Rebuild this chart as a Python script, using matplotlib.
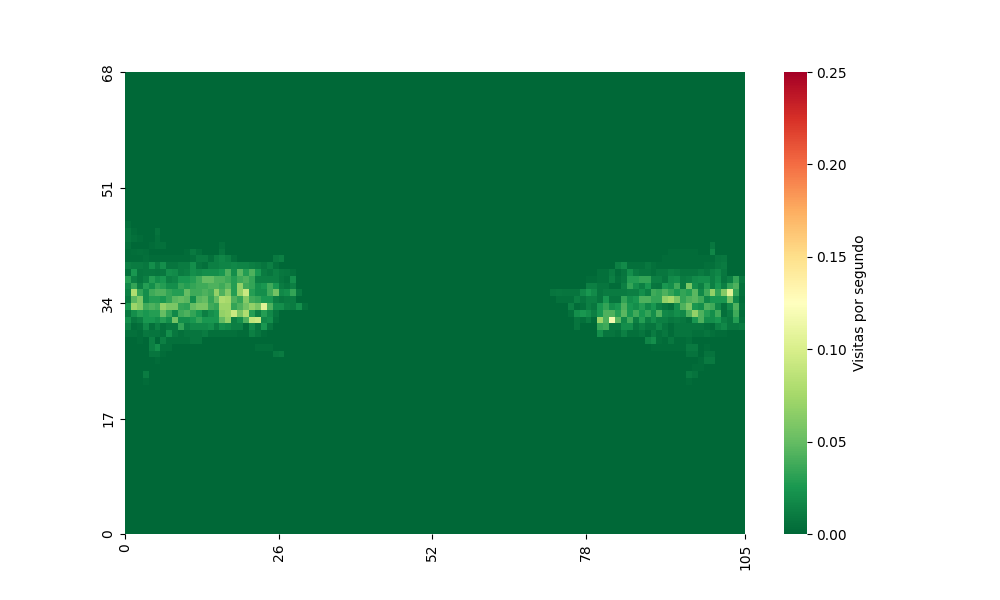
import numpy as np
import matplotlib
matplotlib.use("Agg")
import matplotlib.pyplot as plt
import seaborn as sns

# Visits per second x 1000, own half: values start at column 0
l45 = [3]
l44 = [7, 2, 0, 0, 0, 6]
l43 = [7, 4, 2, 0, 0, 4]
l42 = [4, 0, 0, 0, 2, 4, 4, 0, 0, 0, 0, 0, 0, 0, 0, 0, 4]
l41 = [2, 3, 4, 3, 0, 0, 0, 0, 0, 0, 2, 9, 4, 0, 0, 0, 7]
l40 = [2, 2, 2, 4, 2, 2, 2, 2, 2, 2, 2, 4, 10, 10, 4, 12, 16, 12, 4, 0, 0, 0, 0, 0, 0, 9, 12]
l39 = [12, 10, 10, 8, 20, 10, 20, 7, 7, 10, 10, 20, 7, 4, 12, 12, 15, 15, 17, 15, 15, 12, 10, 7, 12, 4]
l38 = [4, 25, 7, 8, 8, 7, 8, 20, 18, 10, 12, 20, 17, 20, 20, 20, 25, 42, 20, 46, 29, 42, 25, 10, 7, 12, 8, 7, 4]
l37 = [29, 12, 7, 12, 29, 20, 25, 12, 15, 25, 25, 29, 38, 50, 50, 42, 42, 38, 29, 38, 42, 34, 12, 12, 12, 12, 7, 4, 20]
l36 = [17, 34, 12, 29, 20, 34, 29, 20, 20, 34, 29, 34, 38, 38, 42, 42, 38, 46, 29, 68, 38, 34, 20, 25, 38, 25, 10, 7, 12]
l35 = [12, 80, 34, 20, 38, 42, 42, 34, 29, 29, 50, 38, 38, 42, 38, 68, 42, 62, 29, 68, 92, 29, 20, 20, 38, 55, 17, 20, 34, 8]
l34 = [8, 46, 60, 20, 29, 29, 25, 34, 46, 50, 46, 20, 46, 50, 34, 50, 80, 76, 42, 34, 62, 38, 34, 25, 25, 12, 8, 10, 10]
l33 = [25, 72, 62, 38, 42, 38, 68, 58, 58, 34, 32, 50, 58, 58, 38, 34, 72, 72, 34, 42, 55, 68, 58, 105, 42, 20, 20, 12, 10, 20, 4]
l32 = [8, 20, 29, 25, 29, 29, 50, 34, 17, 38, 42, 34, 25, 12, 20, 25, 68, 72, 92, 58, 80, 29, 12, 29, 17, 7]
l31 = [20, 8, 12, 25, 25, 20, 29, 20, 55, 20, 20, 25, 34, 25, 25, 25, 50, 68, 12, 20, 42, 88, 92, 17, 20, 4]
l30 = [12, 2, 4, 17, 4, 12, 4, 8, 8, 34, 12, 17, 17, 17, 20, 10, 20, 17, 12, 12, 2, 17, 7, 25, 7]
l29 = [4, 4, 2, 8, 7, 7, 4, 20, 8, 4, 7, 7, 7, 10, 4, 4, 4, 4, 4, 2, 2, 12, 7, 2]
l28 = [0, 0, 2, 0, 12, 0, 12, 4, 4, 4, 4, 7, 7]
l27 = [0, 0, 0, 0, 12, 20, 4, 4, 0, 0, 0, 0, 0, 0, 0, 0, 0, 0, 0, 0, 0, 0, 3, 3, 3]
l26 = [0, 0, 0, 0, 7, 7, 2, 0, 0, 0, 0, 0, 0, 0, 0, 0, 0, 0, 0, 0, 0, 0, 0, 0, 0, 8, 10]
l25 = [0, 0, 0, 0, 0, 2]
l23 = [0, 0, 0, 10]
l22 = [0, 0, 0, 2]

# Opposite half: values start at column 72
r42 = [0] * 27 + [8]
r41 = [0] * 20 + [2, 2, 2, 2, 2, 0, 0, 16]
r40 = [0] * 19 + [2, 2, 2, 2, 2, 2, 2, 2, 2, 7, 8]
r39 = [0] * 11 + [12, 18, 4, 4, 4, 8, 4, 2, 2, 2, 2, 2, 2, 2, 2, 4, 4, 8, 10]
r38 = [0, 0, 0, 0, 0, 0, 0, 0, 4, 4, 10, 2, 7, 20, 10, 7, 7, 4, 8, 8, 12, 10, 7, 7, 7, 10, 7, 12, 16, 8]
r37 = [0, 0, 0, 0, 0, 0, 2, 2, 4, 4, 12, 4, 8, 29, 29, 34, 34, 12, 12, 7, 18, 20, 10, 12, 18, 20, 20, 12, 20, 7, 12, 34, 8]
r36 = [0, 0, 0, 0, 0, 0, 12, 12, 7, 7, 2, 2, 12, 34, 20, 12, 25, 8, 7, 25, 20, 38, 10, 58, 20, 12, 29, 12, 25, 12, 34, 42, 4]
r35 = [7, 8, 7, 7, 7, 17, 25, 18, 7, 10, 10, 10, 10, 12, 12, 20, 12, 38, 34, 42, 34, 25, 34, 29, 46, 17, 38, 68, 34, 62, 105, 34, 4]
r34 = [0, 4, 4, 4, 12, 7, 12, 12, 7, 25, 7, 7, 34, 20, 25, 42, 42, 34, 34, 68, 76, 58, 34, 42, 46, 38, 17, 25, 25, 25, 55, 17, 2]
r33 = [0, 0, 0, 12, 2, 4, 12, 8, 25, 34, 20, 25, 42, 25, 20, 29, 17, 25, 12, 8, 4, 20, 42, 58, 25, 20, 42, 38, 17, 4, 17, 42, 4]
r32 = [0, 0, 0, 4, 20, 25, 20, 12, 25, 42, 42, 29, 46, 25, 38, 25, 34, 20, 42, 17, 15, 20, 17, 42, 68, 42, 29, 20, 38, 4, 10, 38, 2]
r31 = [0, 0, 0, 0, 7, 4, 10, 2, 72, 42, 118, 46, 17, 38, 12, 29, 12, 20, 12, 12, 8, 10, 8, 4, 25, 42, 20, 20, 25, 12, 8, 29, 4]
r30 = [0, 0, 0, 0, 7, 0, 0, 0, 34, 38, 8, 8, 20, 20, 7, 12, 7, 7, 15, 7, 2, 7, 7, 7, 7, 7, 4, 2, 12, 17, 8, 8, 10]
r29 = [0, 0, 0, 0, 0, 0, 0, 0, 20, 7, 7, 4, 12, 4, 4, 7, 2, 10, 4, 8, 2, 7, 7, 7, 4, 4, 7, 4, 2, 2]
r28 = [0] * 16 + [15, 20, 4, 2, 8, 2, 2, 4]
r27 = [0] * 17 + [2, 2, 2, 2, 2, 2, 9, 9, 0, 2]
r26 = [0] * 23 + [6, 6, 0, 6, 6]
r25 = [0] * 25 + [2, 9, 9]
r24 = [0] * 24 + [2, 2]
r23 = [0] * 23 + [9, 6]
r22 = [0] * 23 + [2]

x_ticks = [0, 26, 52, 78, 105]
y_ticks = [0, 17, 34, 51, 68]
cbar_label = "Visitas por segundo"

left_rows = {45: l45, 44: l44, 43: l43, 42: l42, 41: l41, 40: l40, 39: l39, 38: l38,
             37: l37, 36: l36, 35: l35, 34: l34, 33: l33, 32: l32, 31: l31, 30: l30,
             29: l29, 28: l28, 27: l27, 26: l26, 25: l25, 23: l23, 22: l22}
right_rows = {42: r42, 41: r41, 40: r40, 39: r39, 38: r38, 37: r37, 36: r36, 35: r35,
              34: r34, 33: r33, 32: r32, 31: r31, 30: r30, 29: r29, 28: r28, 27: r27,
              26: r26, 25: r25, 24: r24, 23: r23, 22: r22}

grid = np.zeros((68, 105))
for row, vals in left_rows.items():
    grid[row, :len(vals)] = vals
for row, vals in right_rows.items():
    grid[row, 72:72 + len(vals)] = vals
grid = grid / 1000.0

fig, ax = plt.subplots(figsize=(10, 6), dpi=100)
sns.heatmap(grid, ax=ax, cmap="RdYlGn_r", vmin=0, vmax=0.25,
            cbar_kws={"label": cbar_label})
ax.set_ylim(0, 68)
ax.set_xticks(x_ticks)
ax.set_xticklabels(x_ticks, rotation=90)
ax.set_yticks(y_ticks)
ax.set_yticklabels(y_ticks, rotation=90, va="center")
fig.savefig("out.png", dpi=100)
